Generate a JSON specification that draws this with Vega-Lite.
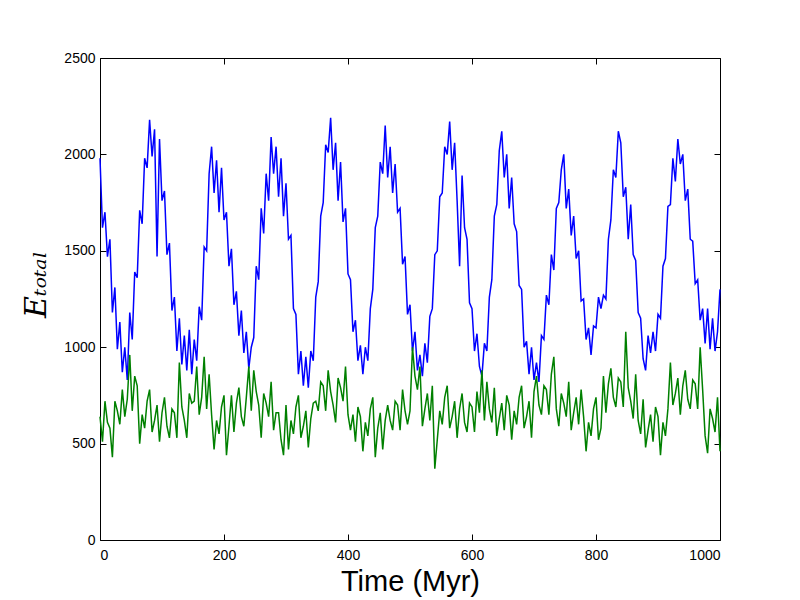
{
  "$schema": "https://vega.github.io/schema/vega-lite/v6.json",
  "description": "Total energy over time, two runs",
  "width": 620,
  "height": 482,
  "autosize": {"type": "none"},
  "padding": {"left": 100, "top": 58, "right": 80, "bottom": 60},
  "background": "white",
  "data": {
    "values": [
      {"t":0,"Blue":1980,"Green":640},{"t":4,"Blue":1620,"Green":510},{"t":8,"Blue":1700,"Green":720},{"t":12,"Blue":1470,"Green":610},
      {"t":16,"Blue":1560,"Green":580},{"t":20,"Blue":1180,"Green":430},{"t":24,"Blue":1310,"Green":720},{"t":28,"Blue":990,"Green":670},
      {"t":32,"Blue":1130,"Green":600},{"t":36,"Blue":870,"Green":780},{"t":40,"Blue":1000,"Green":640},{"t":44,"Blue":830,"Green":730},
      {"t":48,"Blue":1180,"Green":960},{"t":52,"Blue":1040,"Green":670},{"t":56,"Blue":1390,"Green":850},{"t":60,"Blue":1360,"Green":800},
      {"t":64,"Blue":1710,"Green":500},{"t":68,"Blue":1640,"Green":650},{"t":72,"Blue":1980,"Green":580},{"t":76,"Blue":1930,"Green":720},
      {"t":80,"Blue":2180,"Green":780},{"t":84,"Blue":1990,"Green":560},{"t":88,"Blue":2130,"Green":620},{"t":92,"Blue":1470,"Green":700},
      {"t":96,"Blue":2080,"Green":510},{"t":100,"Blue":1760,"Green":660},{"t":104,"Blue":1810,"Green":740},{"t":108,"Blue":1480,"Green":590},
      {"t":112,"Blue":1540,"Green":530},{"t":116,"Blue":1190,"Green":680},{"t":120,"Blue":1260,"Green":660},{"t":124,"Blue":980,"Green":530},
      {"t":128,"Blue":1150,"Green":920},{"t":132,"Blue":910,"Green":690},{"t":136,"Blue":1060,"Green":620},{"t":140,"Blue":880,"Green":530},
      {"t":144,"Blue":1090,"Green":760},{"t":148,"Blue":860,"Green":710},{"t":152,"Blue":1040,"Green":720},{"t":156,"Blue":930,"Green":900},
      {"t":160,"Blue":1210,"Green":650},{"t":164,"Blue":1140,"Green":740},{"t":168,"Blue":1520,"Green":950},{"t":172,"Blue":1500,"Green":680},
      {"t":176,"Blue":1900,"Green":860},{"t":180,"Blue":2040,"Green":650},{"t":184,"Blue":1800,"Green":470},{"t":188,"Blue":1970,"Green":620},
      {"t":192,"Blue":1700,"Green":550},{"t":196,"Blue":1930,"Green":690},{"t":200,"Blue":1660,"Green":750},{"t":204,"Blue":1700,"Green":440},
      {"t":208,"Blue":1420,"Green":590},{"t":212,"Blue":1510,"Green":750},{"t":216,"Blue":1220,"Green":560},{"t":220,"Blue":1290,"Green":710},
      {"t":224,"Blue":1060,"Green":790},{"t":228,"Blue":1190,"Green":640},{"t":232,"Blue":970,"Green":590},{"t":236,"Blue":1080,"Green":740},
      {"t":240,"Blue":890,"Green":900},{"t":244,"Blue":1000,"Green":670},{"t":248,"Blue":1050,"Green":880},{"t":252,"Blue":1420,"Green":770},
      {"t":256,"Blue":1350,"Green":700},{"t":260,"Blue":1720,"Green":530},{"t":264,"Blue":1590,"Green":760},{"t":268,"Blue":1900,"Green":710},
      {"t":272,"Blue":1760,"Green":640},{"t":276,"Blue":2090,"Green":820},{"t":280,"Blue":1900,"Green":570},{"t":284,"Blue":2040,"Green":660},
      {"t":288,"Blue":1780,"Green":660},{"t":292,"Blue":1980,"Green":520},{"t":296,"Blue":1680,"Green":440},{"t":300,"Blue":1850,"Green":700},
      {"t":304,"Blue":1560,"Green":470},{"t":308,"Blue":1580,"Green":620},{"t":312,"Blue":1200,"Green":550},{"t":316,"Blue":1170,"Green":690},
      {"t":320,"Blue":860,"Green":750},{"t":324,"Blue":980,"Green":530},{"t":328,"Blue":800,"Green":590},{"t":332,"Blue":950,"Green":670},
      {"t":336,"Blue":790,"Green":480},{"t":340,"Blue":980,"Green":630},{"t":344,"Blue":930,"Green":710},{"t":348,"Blue":1260,"Green":720},
      {"t":352,"Blue":1340,"Green":670},{"t":356,"Blue":1680,"Green":820},{"t":360,"Blue":1750,"Green":800},{"t":364,"Blue":2050,"Green":670},
      {"t":368,"Blue":2010,"Green":880},{"t":372,"Blue":2190,"Green":770},{"t":376,"Blue":1920,"Green":700},{"t":380,"Blue":2060,"Green":610},
      {"t":384,"Blue":1760,"Green":840},{"t":388,"Blue":1960,"Green":790},{"t":392,"Blue":1650,"Green":720},{"t":396,"Blue":1720,"Green":900},
      {"t":400,"Blue":1380,"Green":650},{"t":404,"Blue":1350,"Green":570},{"t":408,"Blue":1080,"Green":650},{"t":412,"Blue":1140,"Green":510},
      {"t":416,"Blue":930,"Green":690},{"t":420,"Blue":1010,"Green":640},{"t":424,"Blue":860,"Green":460},{"t":428,"Blue":1000,"Green":610},
      {"t":432,"Blue":930,"Green":540},{"t":436,"Blue":1200,"Green":680},{"t":440,"Blue":1300,"Green":740},{"t":444,"Blue":1620,"Green":430},
      {"t":448,"Blue":1680,"Green":580},{"t":452,"Blue":1960,"Green":660},{"t":456,"Blue":1900,"Green":470},{"t":460,"Blue":2150,"Green":620},
      {"t":464,"Blue":1880,"Green":700},{"t":468,"Blue":2040,"Green":620},{"t":472,"Blue":1800,"Green":570},{"t":476,"Blue":1950,"Green":720},
      {"t":480,"Blue":1700,"Green":700},{"t":484,"Blue":1720,"Green":570},{"t":488,"Blue":1430,"Green":780},{"t":492,"Blue":1470,"Green":670},
      {"t":496,"Blue":1170,"Green":600},{"t":500,"Blue":1220,"Green":670},{"t":504,"Blue":980,"Green":1000},{"t":508,"Blue":1080,"Green":850},
      {"t":512,"Blue":880,"Green":780},{"t":516,"Blue":960,"Green":900},{"t":520,"Blue":850,"Green":590},{"t":524,"Blue":1020,"Green":680},
      {"t":528,"Blue":920,"Green":760},{"t":532,"Blue":1160,"Green":620},{"t":536,"Blue":1200,"Green":800},{"t":540,"Blue":1480,"Green":370},
      {"t":544,"Blue":1500,"Green":520},{"t":548,"Blue":1780,"Green":670},{"t":552,"Blue":1800,"Green":600},{"t":556,"Blue":2040,"Green":740},
      {"t":560,"Blue":2000,"Green":800},{"t":564,"Blue":2170,"Green":580},{"t":568,"Blue":1920,"Green":640},{"t":572,"Blue":2060,"Green":720},
      {"t":576,"Blue":1760,"Green":530},{"t":580,"Blue":1420,"Green":680},{"t":584,"Blue":1890,"Green":760},{"t":588,"Blue":1620,"Green":610},
      {"t":592,"Blue":1560,"Green":560},{"t":596,"Blue":1230,"Green":710},{"t":600,"Blue":1200,"Green":690},{"t":604,"Blue":980,"Green":560},
      {"t":608,"Blue":1070,"Green":770},{"t":612,"Blue":900,"Green":660},{"t":616,"Blue":850,"Green":880},{"t":620,"Blue":1020,"Green":620},
      {"t":624,"Blue":980,"Green":820},{"t":628,"Blue":1260,"Green":680},{"t":632,"Blue":1350,"Green":610},{"t":636,"Blue":1680,"Green":790},
      {"t":640,"Blue":1740,"Green":540},{"t":644,"Blue":2020,"Green":630},{"t":648,"Blue":2120,"Green":710},{"t":652,"Blue":1880,"Green":570},
      {"t":656,"Blue":2000,"Green":750},{"t":660,"Blue":1720,"Green":700},{"t":664,"Blue":1880,"Green":520},{"t":668,"Blue":1640,"Green":670},
      {"t":672,"Blue":1600,"Green":600},{"t":676,"Blue":1320,"Green":740},{"t":680,"Blue":1300,"Green":800},{"t":684,"Blue":1000,"Green":580},
      {"t":688,"Blue":1030,"Green":640},{"t":692,"Blue":860,"Green":720},{"t":696,"Blue":1000,"Green":530},{"t":700,"Blue":830,"Green":770},
      {"t":704,"Blue":920,"Green":850},{"t":708,"Blue":820,"Green":700},{"t":712,"Blue":1060,"Green":650},{"t":716,"Blue":1040,"Green":800},
      {"t":720,"Blue":1270,"Green":780},{"t":724,"Blue":1220,"Green":650},{"t":728,"Blue":1480,"Green":860},{"t":732,"Blue":1400,"Green":950},
      {"t":736,"Blue":1720,"Green":680},{"t":740,"Blue":1750,"Green":590},{"t":744,"Blue":1920,"Green":760},{"t":748,"Blue":2000,"Green":710},
      {"t":752,"Blue":1720,"Green":640},{"t":756,"Blue":1820,"Green":820},{"t":760,"Blue":1580,"Green":570},{"t":764,"Blue":1680,"Green":660},
      {"t":768,"Blue":1460,"Green":740},{"t":772,"Blue":1500,"Green":600},{"t":776,"Blue":1240,"Green":780},{"t":780,"Blue":1250,"Green":640},
      {"t":784,"Blue":1040,"Green":460},{"t":788,"Blue":1100,"Green":610},{"t":792,"Blue":960,"Green":540},{"t":796,"Blue":1110,"Green":680},
      {"t":800,"Blue":1100,"Green":740},{"t":804,"Blue":1260,"Green":520},{"t":808,"Blue":1200,"Green":580},{"t":812,"Blue":1270,"Green":850},
      {"t":816,"Blue":1250,"Green":660},{"t":820,"Blue":1560,"Green":810},{"t":824,"Blue":1660,"Green":890},{"t":828,"Blue":1920,"Green":740},
      {"t":832,"Blue":1880,"Green":690},{"t":836,"Blue":2120,"Green":840},{"t":840,"Blue":2060,"Green":820},{"t":844,"Blue":1780,"Green":690},
      {"t":848,"Blue":1830,"Green":1080},{"t":852,"Blue":1560,"Green":790},{"t":856,"Blue":1740,"Green":720},{"t":860,"Blue":1480,"Green":630},
      {"t":864,"Blue":1450,"Green":860},{"t":868,"Blue":1180,"Green":620},{"t":872,"Blue":1150,"Green":550},{"t":876,"Blue":940,"Green":730},
      {"t":880,"Blue":880,"Green":480},{"t":884,"Blue":1060,"Green":570},{"t":888,"Blue":970,"Green":650},{"t":892,"Blue":1080,"Green":510},
      {"t":896,"Blue":980,"Green":690},{"t":900,"Blue":1170,"Green":640},{"t":904,"Blue":1150,"Green":440},{"t":908,"Blue":1420,"Green":610},
      {"t":912,"Blue":1460,"Green":540},{"t":916,"Blue":1730,"Green":680},{"t":920,"Blue":1740,"Green":920},{"t":924,"Blue":1980,"Green":700},
      {"t":928,"Blue":1860,"Green":760},{"t":932,"Blue":2080,"Green":840},{"t":936,"Blue":1950,"Green":650},{"t":940,"Blue":2000,"Green":800},
      {"t":944,"Blue":1760,"Green":880},{"t":948,"Blue":1820,"Green":730},{"t":952,"Blue":1560,"Green":680},{"t":956,"Blue":1550,"Green":830},
      {"t":960,"Blue":1330,"Green":810},{"t":964,"Blue":1350,"Green":680},{"t":968,"Blue":1140,"Green":1000},{"t":972,"Blue":1200,"Green":780},
      {"t":976,"Blue":1020,"Green":540},{"t":980,"Blue":1200,"Green":450},{"t":984,"Blue":990,"Green":680},{"t":988,"Blue":1150,"Green":630},
      {"t":992,"Blue":980,"Green":560},{"t":996,"Blue":1080,"Green":740},{"t":1000,"Blue":1300,"Green":460}
    ]
  },
  "layer": [
    {
      "mark": {"type": "line", "color": "#0000ff", "strokeWidth": 1.5},
      "encoding": {
        "x": {
          "field": "t",
          "type": "quantitative",
          "scale": {"domain": [0, 1000], "nice": false},
          "axis": {
            "values": [0, 200, 400, 600, 800, 1000],
            "format": "d",
            "title": "Time (Myr)",
            "titleFont": "Liberation Sans",
            "titleFontSize": 29,
            "titleFontWeight": "normal",
            "labelPadding": 14,
            "titlePadding": 5
          }
        },
        "y": {
          "field": "Blue",
          "type": "quantitative",
          "scale": {"domain": [0, 2500], "nice": false},
          "axis": {
            "values": [0, 500, 1000, 1500, 2000, 2500],
            "format": "d",
            "title": "Eₜₒₜₐₗ",
            "titleFont": "DejaVu Serif",
            "titleFontStyle": "italic",
            "titleFontSize": 30,
            "titleFontWeight": "normal",
            "titleY": 226,
            "labelPadding": 11,
            "titlePadding": 12
          }
        }
      }
    },
    {
      "mark": {"type": "line", "color": "#008000", "strokeWidth": 1.5},
      "encoding": {
        "x": {
          "field": "t",
          "type": "quantitative",
          "scale": {"domain": [0, 1000], "nice": false},
          "axis": {"orient": "top", "values": [0, 200, 400, 600, 800, 1000], "labels": false, "title": null}
        },
        "y": {
          "field": "Green",
          "type": "quantitative",
          "scale": {"domain": [0, 2500], "nice": false},
          "axis": {"orient": "right", "values": [0, 500, 1000, 1500, 2000, 2500], "labels": false, "title": null}
        }
      }
    }
  ],
  "resolve": {"axis": {"x": "independent", "y": "independent"}},
  "config": {
    "view": {"stroke": "black", "strokeWidth": 1},
    "axis": {
      "grid": false,
      "domain": false,
      "tickColor": "black",
      "tickSize": -6,
      "tickWidth": 1,
      "labelColor": "black",
      "titleColor": "black",
      "labelFont": "Liberation Sans",
      "labelFontSize": 14
    }
  }
}
